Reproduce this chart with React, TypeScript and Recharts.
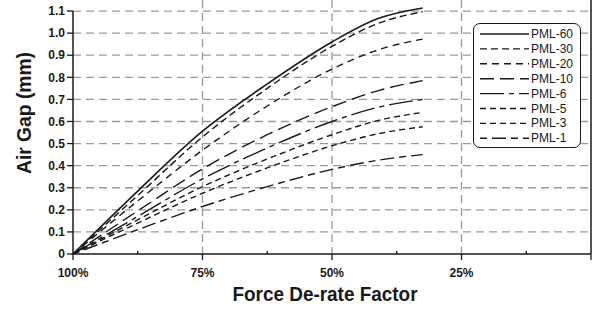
import { CartesianGrid, Label, Legend, Line, LineChart, ReferenceLine, XAxis, YAxis } from "recharts";

const factor = [100, 87.5, 75, 62.5, 50, 41, 32.5];

const pml60 = [0, 0.285, 0.556, 0.77, 0.96, 1.067, 1.114];
const pml30 = [0, 0.265, 0.53, 0.75, 0.94, 1.045, 1.097];
const pml20 = [0, 0.24, 0.47, 0.67, 0.837, 0.925, 0.973];
const pml10 = [0, 0.195, 0.385, 0.54, 0.667, 0.74, 0.785];
const pml6 = [0, 0.17, 0.34, 0.48, 0.6, 0.665, 0.7];
const pml5 = [0, 0.155, 0.305, 0.43, 0.54, 0.605, 0.641];
const pml3 = [0, 0.14, 0.275, 0.39, 0.49, 0.545, 0.576];
const pml1 = [0, 0.11, 0.215, 0.305, 0.383, 0.425, 0.45];

const xTicks = [100, 87.5, 75, 62.5, 50, 37.5, 25, 12.5, 0];
const xLabels: Record<number, string> = { 100: "100%", 75: "75%", 50: "50%", 25: "25%" };
const yTicks = [0, 0.1, 0.2, 0.3, 0.4, 0.5, 0.6, 0.7, 0.8, 0.9, 1.0, 1.1];

const series = [
  { key: "PML-60", values: pml60, dash: undefined, width: 1.6 },
  { key: "PML-30", values: pml30, dash: "7 4", width: 1.4 },
  { key: "PML-20", values: pml20, dash: "7 5", width: 1.4 },
  { key: "PML-10", values: pml10, dash: "14 6", width: 1.4 },
  { key: "PML-6", values: pml6, dash: "24 5 5 5", width: 1.4 },
  { key: "PML-5", values: pml5, dash: "6 4", width: 1.4 },
  { key: "PML-3", values: pml3, dash: "6 4", width: 1.4 },
  { key: "PML-1", values: pml1, dash: "7 5 14 5", width: 1.4 },
];

const data = factor.map((f, i) => {
  const row: Record<string, number> = { factor: f };
  series.forEach((s) => (row[s.key] = s.values[i]));
  return row;
});

const font = "'Liberation Sans', Arial, sans-serif";
const ink = "#1a1a1a";

function XTick(props: any) {
  const { x, y, payload } = props;
  const label = xLabels[payload.value];
  const major = payload.value % 25 === 0;
  return (
    <g>
      {major ? (
        <line x1={x} x2={x} y1={y} y2={y + 6} stroke={ink} strokeWidth={1.3} />
      ) : (
        <line x1={x} x2={x} y1={y} y2={y - 3} stroke={ink} strokeWidth={1.3} />
      )}
      {label && (
        <text x={x} y={y + 23} textAnchor="middle" fontFamily={font} fontWeight="bold" fontSize={12} fill={ink}>
          {label}
        </text>
      )}
    </g>
  );
}

function LegendBox() {
  return (
    <div
      style={{
        width: 108,
        height: 125,
        border: `1.3px solid ${ink}`,
        borderRadius: 7,
        background: "#fff",
        boxSizing: "border-box",
      }}
    >
      <svg width={106} height={123} style={{ display: "block" }}>
        {series.map((s, i) => {
          const cy = 10 + i * 14.9;
          return (
            <g key={s.key}>
              <line x1={6} x2={55} y1={cy} y2={cy} stroke={ink} strokeWidth={s.width} strokeDasharray={s.dash} />
              <text x={57} y={cy + 4} fontFamily={font} fontSize={12} fill={ink}>
                {s.key}
              </text>
            </g>
          );
        })}
      </svg>
    </div>
  );
}

export default function App() {
  return (
    <div style={{ position: "absolute", left: 0, top: 0, background: "#fff" }}>
      <LineChart width={592} height={309} data={data} margin={{ top: 0, right: 1, bottom: 0, left: 13 }}>
        <CartesianGrid
          stroke="#9a9a9a"
          strokeWidth={1.3}
          strokeDasharray="8 5"
          horizontalValues={[0.1, 0.2, 0.3, 0.4, 0.5, 0.6, 0.7, 0.8, 0.9, 1.0, 1.1]}
          verticalValues={[75, 50, 25]}
        />
        <XAxis
          dataKey="factor"
          type="number"
          domain={[0, 100]}
          reversed
          ticks={xTicks}
          interval={0}
          height={55}
          tickSize={0}
          tickMargin={0}
          tick={<XTick />}
          axisLine={{ stroke: ink, strokeWidth: 1.5 }}
        >
          <Label
            content={() => (
              <text
                x={325}
                y={301}
                textAnchor="middle"
                fontFamily={font}
                fontWeight="bold"
                fontSize={20}
                textLength={185}
                lengthAdjust="spacingAndGlyphs"
                fill={ink}
              >
                Force De-rate Factor
              </text>
            )}
          />
        </XAxis>
        <YAxis
          type="number"
          domain={[0, 1.15]}
          ticks={yTicks}
          interval={0}
          width={60}
          axisLine={false}
          tickLine={{ stroke: ink, strokeWidth: 1.3 }}
          tickSize={6}
          tickMargin={2}
          tickFormatter={(v: number) => (v === 0 ? "0" : v.toFixed(1))}
          tick={{ fontFamily: font, fontWeight: "bold", fontSize: 12, fill: ink }}
        >
          <Label
            content={() => (
              <text
                x={31}
                y={113}
                transform="rotate(-90 31 113)"
                textAnchor="middle"
                fontFamily={font}
                fontWeight="bold"
                fontSize={20}
                textLength={122}
                lengthAdjust="spacingAndGlyphs"
                fill={ink}
              >
                Air Gap (mm)
              </text>
            )}
          />
        </YAxis>
        <ReferenceLine
          segment={[
            { x: 100, y: 0 },
            { x: 100, y: 1.1 },
          ]}
          stroke={ink}
          strokeWidth={1.5}
        />
        <ReferenceLine x={0} stroke={ink} strokeWidth={1.5} />
        <Legend
          layout="vertical"
          verticalAlign="middle"
          align="center"
          wrapperStyle={{ position: "absolute", left: 473, top: 23, width: 108 }}
          content={() => <LegendBox />}
        />
        {series.map((s) => (
          <Line
            key={s.key}
            dataKey={s.key}
            type="monotone"
            stroke={ink}
            strokeWidth={s.width}
            strokeDasharray={s.dash}
            dot={false}
            isAnimationActive={false}
          />
        ))}
      </LineChart>
    </div>
  );
}
